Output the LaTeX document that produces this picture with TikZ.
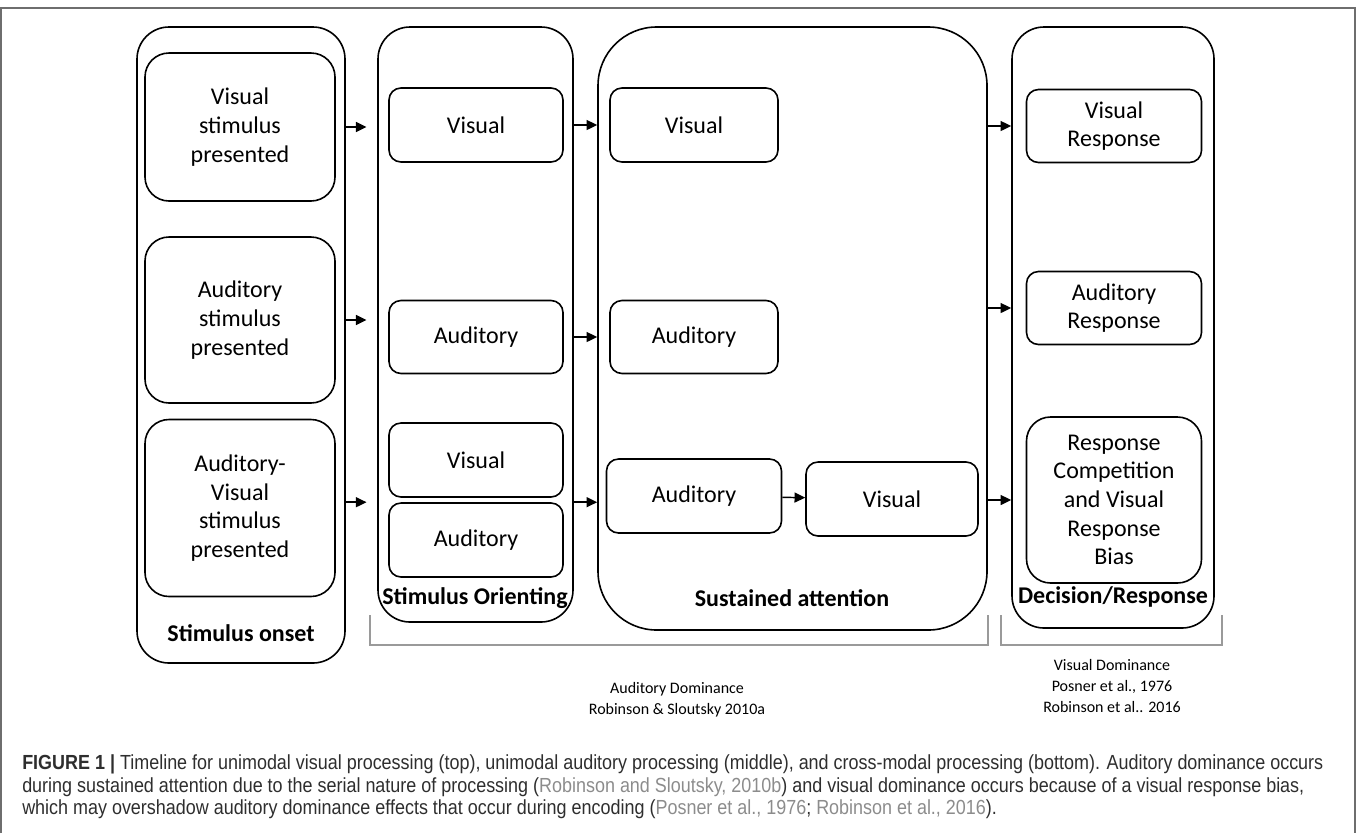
\documentclass[tikz,border=0pt]{standalone}
\usepackage{fontspec}
\setmainfont{Carlito}
\newfontfamily\capfont[FakeStretch=0.88]{Liberation Sans}
\usetikzlibrary{positioning, fit, arrows.meta}
\definecolor{capgray}{HTML}{8C8C8C}
\definecolor{capink}{HTML}{2E2E2E}
\definecolor{brgray}{HTML}{9A9A9A}
\definecolor{framegray}{HTML}{6E6E6E}

\begin{document}
\begin{tikzpicture}[x=0.75pt, y=-0.75pt,
  group node/.style={draw, line width=1.2pt, rounded corners=24pt, inner sep=0pt},
  size/.style 2 args={minimum width=#1*0.75pt, minimum height=#2*0.75pt},
  box node/.style={draw, line width=1.2pt, rounded corners=9pt, inner sep=0pt, align=center,
    font=\fontsize{18}{21.5}\selectfont},
  big box/.style={box node, rounded corners=18pt},
  title node/.style={font=\fontsize{18}{21}\selectfont\bfseries},
  flow/.style={line width=1.1pt, -{Triangle[length=8pt,width=7.5pt]}},
  bracket/.style={brgray, line width=0.9pt},
  ref node/.style={align=center, font=\fontsize{12}{16}\selectfont}]

\useasboundingbox (0,0) rectangle (1358,833);

% frame of the figure
\draw[framegray, line width=0.8pt] (1,833) -- (1,8) -- (1355,8) -- (1355,833);

% stages
\node[group node, fit={(137,27) (345,663)}] (onset) {};
\node[group node, fit={(378,27) (573,622)}] (orient) {};
\node[group node, rounded corners=44pt, fit={(598,27) (987,630)}] (sustain) {};
\node[group node, fit={(1012,27) (1214,628)}] (decide) {};

\node[title node] (onsetT) at (241,633) {Stimulus onset};
\node[title node] (orientT) at (475,598) {Stimulus Orienting};
\node[title node] (sustainT) at (792,598) {Sustained attention};
\node[title node] (decideT) at (1113,597) {Decision/Response};

% stimulus onset
\node[big box, size={190}{148}] (oV) at (240,127) {Visual\\stimulus\\presented};
\node[big box, size={190}{166}] (oA) at (240,320) {Auditory\\stimulus\\presented};
\node[big box, size={190}{177}] (oAV) at (240,508) {Auditory-\\Visual\\stimulus\\presented};

% stimulus orienting
\node[box node, size={174}{74}] (rV1) at (476,125) {Visual};
\node[box node, size={174}{73}] (rA1) at (476,337) {Auditory};
\node[box node, size={174}{74}] (rV2) at (476,460) {Visual};
\node[box node, size={174}{74}] (rA2) at (476,540) {Auditory};

% sustained attention
\node[box node, size={168}{74}] (sV1) at (694,125) {Visual};
\node[box node, size={168}{73}] (sA1) at (694,337) {Auditory};
\node[box node, size={175}{74}] (sA2) at (694,496) {Auditory};
\node[box node, size={172}{74}] (sV2) at (892,499) {Visual};

% decision / response
\node[box node, size={175}{73}] (dV) at (1114,126) {Visual\\Response};
\node[box node, size={175}{73}] (dA) at (1114,308) {Auditory\\Response};
\node[big box, size={175}{166}] (dC) at (1114,500) {Response\\Competition\\and Visual\\Response\\Bias};

% arrows
\draw[flow, shorten >=8pt] (oV.east -| onset.east) -- (oV.east -| orient.west);
\draw[flow, shorten >=8pt] (oA.east -| onset.east) -- (oA.east -| orient.west);
\draw[flow, shorten >=8pt] (rA2.north -| onset.east) -- (rA2.north -| orient.west);
\draw[flow] (rV1.east -| orient.east) -- (rV1.east -| sustain.west);
\draw[flow] (rA1.east -| orient.east) -- (rA1.east -| sustain.west);
\draw[flow] (rA2.north -| orient.east) -- (rA2.north -| sustain.west);
\draw[flow] (sA2) -- (sV2);
\draw[flow] (dV.west -| sustain.east) -- (dV.west -| decide.west);
\draw[flow] (dA.west -| sustain.east) -- (dA.west -| decide.west);
\draw[flow] (dC.west -| sustain.east) -- (dC.west -| decide.west);

% dominance brackets
\draw[bracket] (370,615) -- (370,645) -- (988,645) -- (988,615);
\draw[bracket] (1001,615) -- (1001,645) -- (1222,645) -- (1222,615);
\node[ref node] (audRef) at (677,700) {Auditory Dominance\\Robinson \& Sloutsky 2010a};
\node[ref node] (visRef) at (1112,686) {Visual Dominance\\Posner et al., 1976\\Robinson et al.. 2016};

% caption
\node[anchor=north west, align=left, inner sep=0pt, text=capink,
  font=\capfont\fontsize{15.3}{17.2}\selectfont] (caption) at (22,754)
  {{\bfseries FIGURE 1 |} Timeline for unimodal visual processing (top), unimodal auditory processing (middle), and cross-modal processing (bottom). Auditory dominance occurs\\
   during sustained attention due to the serial nature of processing ({\color{capgray}Robinson and Sloutsky, 2010b}) and visual dominance occurs because of a visual response bias,\\
   which may overshadow auditory dominance effects that occur during encoding ({\color{capgray}Posner et al., 1976}; {\color{capgray}Robinson et al., 2016}).};

\end{tikzpicture}
\end{document}
